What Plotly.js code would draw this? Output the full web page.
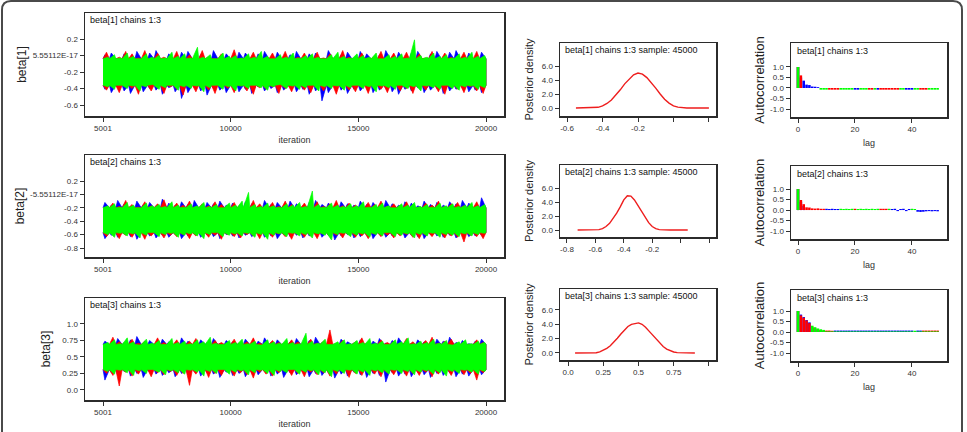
<!DOCTYPE html>
<html>
<head>
<meta charset="utf-8">
<script src="https://cdn.plot.ly/plotly-3.0.1.min.js"></script>
<style>
  html, body { margin: 0; padding: 0; background: #fff; }
  #fig { width: 967px; height: 432px; }
</style>
</head>
<body>
<div id="fig"></div>
<script>
// ---------- MCMC output for beta[1..3], 3 chains, iterations 5001-20000 ----------
// Trace plots: per-block max / min of each chain (60 blocks of 250 iterations)
// plus the level that bounds the bulk of the samples (core band edges).
const iterFirst = 5001, iterLast = 20000;

const b1Core = [-0.04, -0.36];
const b1GreenHi = [-0.02,0.01,-0.03,0.03,-0.01,-0.04,0.02,-0.02,0.0,-0.03,0.04,-0.01,0.02,-0.03,0.10,-0.02,0.01,-0.04,0.03,-0.01,0.0,-0.03,0.02,-0.02,0.05,-0.01,-0.04,0.01,-0.02,0.03,-0.03,0.0,0.02,-0.02,-0.04,0.01,0.04,-0.01,-0.03,0.02,0.0,-0.02,0.03,-0.04,0.01,-0.01,0.02,-0.03,0.19,0.0,-0.02,0.03,-0.01,0.01,-0.03,0.02,-0.02,0.04,-0.01,0.0];
const b1GreenLo = [-0.38,-0.41,-0.36,-0.40,-0.37,-0.43,-0.38,-0.35,-0.41,-0.39,-0.36,-0.42,-0.38,-0.40,-0.37,-0.44,-0.39,-0.36,-0.41,-0.38,-0.43,-0.37,-0.40,-0.36,-0.39,-0.42,-0.38,-0.35,-0.40,-0.37,-0.41,-0.39,-0.36,-0.43,-0.38,-0.40,-0.37,-0.42,-0.39,-0.36,-0.40,-0.38,-0.44,-0.37,-0.39,-0.41,-0.36,-0.40,-0.38,-0.43,-0.37,-0.39,-0.41,-0.36,-0.40,-0.42,-0.38,-0.37,-0.41,-0.39];
const b1RedHi = [0.04,-0.04,-0.02,0.05,0.02,-0.03,0.06,-0.05,0.03,-0.02,-0.04,0.05,-0.03,0.01,-0.05,0.06,-0.02,-0.04,0.02,-0.03,0.07,-0.04,-0.01,0.04,-0.03,-0.05,0.03,-0.02,0.05,-0.04,-0.02,0.03,-0.05,0.04,-0.03,0.02,-0.04,0.06,-0.02,-0.05,0.03,-0.03,-0.01,0.05,-0.04,0.03,-0.02,0.04,-0.05,0.02,-0.03,0.05,-0.04,0.03,-0.02,-0.05,0.04,-0.03,0.05,-0.02];
const b1RedLo = [-0.42,-0.36,-0.45,-0.38,-0.40,-0.47,-0.37,-0.43,-0.39,-0.46,-0.38,-0.41,-0.48,-0.37,-0.44,-0.39,-0.42,-0.46,-0.38,-0.40,-0.45,-0.37,-0.43,-0.47,-0.39,-0.41,-0.38,-0.46,-0.40,-0.44,-0.37,-0.42,-0.45,-0.39,-0.43,-0.38,-0.47,-0.40,-0.42,-0.44,-0.39,-0.46,-0.38,-0.41,-0.45,-0.37,-0.43,-0.40,-0.46,-0.39,-0.42,-0.38,-0.44,-0.47,-0.39,-0.41,-0.45,-0.38,-0.43,-0.46];
const b1BlueHi = [0.01,0.03,-0.04,0.02,-0.03,0.05,-0.02,0.03,0.06,-0.04,0.02,-0.03,0.04,0.05,-0.02,0.01,-0.04,0.06,-0.03,0.02,-0.02,0.04,0.03,-0.04,0.02,0.05,-0.03,0.04,-0.02,0.01,0.05,-0.03,0.02,0.03,-0.04,0.06,-0.02,0.01,0.04,-0.03,0.05,0.02,-0.04,0.01,0.06,-0.03,0.04,-0.02,0.03,0.05,-0.04,0.02,0.05,-0.03,0.04,0.06,-0.02,0.03,-0.04,0.04];
const b1BlueLo = [-0.41,-0.45,-0.39,-0.43,-0.46,-0.38,-0.44,-0.40,-0.42,-0.47,-0.39,-0.44,-0.52,-0.45,-0.38,-0.43,-0.48,-0.40,-0.42,-0.45,-0.39,-0.44,-0.41,-0.46,-0.38,-0.43,-0.40,-0.45,-0.42,-0.39,-0.44,-0.41,-0.47,-0.43,-0.55,-0.45,-0.38,-0.42,-0.46,-0.41,-0.43,-0.39,-0.45,-0.42,-0.40,-0.44,-0.47,-0.41,-0.43,-0.39,-0.45,-0.42,-0.40,-0.46,-0.43,-0.41,-0.39,-0.44,-0.42,-0.45];

const b2Core = [-0.20, -0.57];
const b2GreenHi = [-0.17,-0.14,-0.19,-0.12,-0.16,-0.20,-0.13,-0.17,-0.15,-0.18,-0.11,-0.16,-0.19,-0.14,-0.17,-0.12,-0.18,-0.15,-0.20,-0.13,-0.16,-0.10,0.03,-0.15,-0.18,-0.13,-0.17,-0.19,-0.14,-0.16,-0.12,-0.18,0.05,-0.15,-0.19,-0.13,-0.16,-0.18,-0.14,-0.17,-0.11,-0.19,-0.15,-0.13,-0.17,-0.20,-0.14,-0.16,-0.12,-0.18,-0.15,-0.19,-0.13,-0.17,-0.14,-0.18,-0.16,-0.12,-0.17,-0.15];
const b2GreenLo = [-0.60,-0.64,-0.58,-0.62,-0.59,-0.65,-0.61,-0.57,-0.63,-0.60,-0.58,-0.64,-0.61,-0.59,-0.62,-0.66,-0.60,-0.57,-0.63,-0.61,-0.59,-0.62,-0.58,-0.64,-0.60,-0.67,-0.61,-0.59,-0.63,-0.58,-0.62,-0.60,-0.65,-0.59,-0.61,-0.68,-0.60,-0.58,-0.63,-0.61,-0.59,-0.64,-0.60,-0.62,-0.57,-0.63,-0.61,-0.59,-0.65,-0.60,-0.62,-0.58,-0.64,-0.60,-0.61,-0.63,-0.59,-0.62,-0.60,-0.58];
const b2RedHi = [-0.20,-0.13,-0.18,-0.09,-0.15,-0.19,-0.11,-0.17,-0.14,-0.08,-0.18,-0.13,-0.16,-0.10,-0.19,-0.14,-0.17,-0.11,-0.15,-0.18,-0.12,-0.16,-0.19,-0.09,-0.14,-0.17,-0.12,-0.18,-0.10,-0.15,-0.19,-0.13,-0.16,-0.11,-0.18,-0.14,-0.09,-0.17,-0.13,-0.16,-0.19,-0.12,-0.15,-0.10,-0.18,-0.14,-0.17,-0.11,-0.15,-0.19,-0.13,-0.16,-0.10,-0.18,-0.14,-0.12,-0.17,-0.15,-0.11,-0.18];
const b2RedLo = [-0.63,-0.59,-0.66,-0.61,-0.64,-0.60,-0.67,-0.62,-0.58,-0.65,-0.61,-0.63,-0.60,-0.66,-0.62,-0.59,-0.64,-0.61,-0.67,-0.60,-0.63,-0.65,-0.60,-0.62,-0.66,-0.61,-0.64,-0.59,-0.63,-0.67,-0.60,-0.64,-0.62,-0.66,-0.59,-0.63,-0.61,-0.65,-0.60,-0.64,-0.62,-0.66,-0.59,-0.63,-0.61,-0.65,-0.62,-0.60,-0.64,-0.66,-0.61,-0.63,-0.60,-0.65,-0.62,-0.64,-0.71,-0.61,-0.63,-0.66];
const b2BlueHi = [-0.12,-0.16,-0.09,-0.14,-0.18,-0.10,-0.15,-0.12,-0.17,-0.07,-0.13,-0.16,-0.11,-0.15,-0.09,-0.18,-0.12,-0.14,-0.10,-0.16,-0.13,-0.17,-0.11,-0.14,-0.18,-0.09,-0.15,-0.12,-0.16,-0.10,-0.14,-0.17,-0.12,-0.09,-0.15,-0.13,-0.18,-0.11,-0.14,-0.16,-0.10,-0.15,-0.12,-0.17,-0.09,-0.14,-0.16,-0.11,-0.13,-0.17,-0.10,-0.15,-0.12,-0.16,-0.11,-0.14,-0.09,-0.13,-0.17,-0.05];
const b2BlueLo = [-0.66,-0.61,-0.64,-0.59,-0.63,-0.67,-0.60,-0.62,-0.65,-0.61,-0.64,-0.60,-0.66,-0.62,-0.59,-0.64,-0.61,-0.63,-0.66,-0.60,-0.62,-0.65,-0.61,-0.63,-0.59,-0.64,-0.62,-0.66,-0.60,-0.63,-0.61,-0.65,-0.62,-0.60,-0.64,-0.61,-0.68,-0.62,-0.60,-0.65,-0.63,-0.61,-0.66,-0.60,-0.64,-0.62,-0.59,-0.65,-0.61,-0.63,-0.66,-0.60,-0.62,-0.64,-0.61,-0.65,-0.60,-0.63,-0.62,-0.61];

const b3Core = [0.69, 0.31];
const b3GreenHi = [0.72,0.76,0.70,0.79,0.73,0.68,0.77,0.71,0.75,0.69,0.78,0.72,0.74,0.70,0.76,0.73,0.80,0.71,0.69,0.75,0.72,0.77,0.70,0.74,0.68,0.76,0.73,0.71,0.78,0.72,0.70,0.86,0.74,0.71,0.77,0.69,0.73,0.76,0.70,0.75,0.72,0.78,0.71,0.74,0.69,0.76,0.73,0.79,0.70,0.74,0.72,0.77,0.71,0.75,0.68,0.73,0.76,0.70,0.74,0.72];
const b3GreenLo = [0.28,0.24,0.30,0.26,0.22,0.29,0.25,0.31,0.27,0.23,0.29,0.26,0.24,0.30,0.27,0.21,0.28,0.25,0.31,0.24,0.27,0.29,0.23,0.26,0.30,0.25,0.22,0.28,0.26,0.31,0.24,0.27,0.29,0.23,0.26,0.20,0.28,0.25,0.30,0.24,0.27,0.22,0.29,0.26,0.24,0.30,0.25,0.28,0.23,0.27,0.29,0.24,0.26,0.21,0.28,0.25,0.30,0.27,0.24,0.28];
const b3RedHi = [0.69,0.80,0.73,0.67,0.77,0.71,0.74,0.68,0.79,0.72,0.70,0.76,0.69,0.74,0.78,0.71,0.68,0.75,0.72,0.70,0.77,0.69,0.73,0.79,0.71,0.68,0.75,0.72,0.70,0.76,0.73,0.69,0.77,0.71,0.74,0.91,0.70,0.75,0.68,0.73,0.79,0.71,0.69,0.76,0.72,0.74,0.70,0.78,0.73,0.69,0.75,0.80,0.71,0.74,0.77,0.70,0.73,0.69,0.76,0.72];
const b3RedLo = [0.25,0.22,0.06,0.27,0.21,0.24,0.29,0.20,0.26,0.23,0.28,0.22,0.25,0.07,0.24,0.27,0.19,0.25,0.22,0.28,0.21,0.26,0.23,0.18,0.27,0.24,0.21,0.26,0.29,0.22,0.25,0.20,0.27,0.23,0.26,0.21,0.24,0.28,0.19,0.25,0.22,0.27,0.24,0.20,0.26,0.23,0.29,0.21,0.25,0.22,0.27,0.20,0.24,0.26,0.22,0.28,0.23,0.25,0.15,0.26];
const b3BlueHi = [0.74,0.70,0.78,0.72,0.76,0.81,0.71,0.75,0.69,0.77,0.73,0.70,0.79,0.74,0.71,0.76,0.72,0.78,0.70,0.75,0.73,0.71,0.77,0.69,0.74,0.79,0.72,0.76,0.70,0.73,0.78,0.71,0.75,0.80,0.72,0.74,0.69,0.77,0.73,0.71,0.76,0.70,0.74,0.78,0.71,0.75,0.79,0.72,0.70,0.76,0.73,0.71,0.77,0.74,0.80,0.72,0.75,0.70,0.74,0.77];
const b3BlueLo = [0.15,0.26,0.23,0.28,0.21,0.25,0.19,0.27,0.24,0.22,0.26,0.20,0.25,0.23,0.28,0.21,0.26,0.24,0.19,0.27,0.22,0.25,0.20,0.26,0.23,0.28,0.21,0.24,0.19,0.26,0.23,0.27,0.20,0.25,0.22,0.26,0.18,0.24,0.21,0.27,0.23,0.19,0.25,0.22,0.12,0.26,0.21,0.24,0.20,0.27,0.23,0.19,0.25,0.22,0.26,0.20,0.24,0.21,0.27,0.23];

// Posterior densities (pooled chains, sample: 45000)
const densX1 = [-0.55,-0.525,-0.5,-0.475,-0.45,-0.425,-0.4,-0.375,-0.35,-0.325,-0.3,-0.275,-0.25,-0.225,-0.2,-0.175,-0.15,-0.125,-0.1,-0.075,-0.05,-0.025,0,0.025,0.05,0.075,0.1,0.125,0.15,0.175,0.2];
const densY1 = [0,0,0,0,0.02,0.1,0.3,0.65,1.15,1.85,2.6,3.45,4.15,4.75,5.0,4.85,4.35,3.65,2.85,2.0,1.25,0.7,0.3,0.12,0.03,0,0,0,0,0,0];
const densX2 = [-0.725,-0.7,-0.675,-0.65,-0.625,-0.6,-0.575,-0.55,-0.525,-0.5,-0.475,-0.45,-0.425,-0.4,-0.375,-0.35,-0.325,-0.3,-0.275,-0.25,-0.225,-0.2,-0.175,-0.15,-0.125,-0.1,-0.075,-0.05,-0.025,0,0.025,0.05];
const densY2 = [0,0,0,0,0,0.01,0.05,0.2,0.5,0.95,1.6,2.4,3.3,4.3,4.9,4.85,4.3,3.5,2.6,1.75,1.05,0.5,0.2,0.06,0.01,0,0,0,0,0,0,0];
const densX3 = [0.05,0.075,0.1,0.125,0.15,0.175,0.2,0.225,0.25,0.275,0.3,0.325,0.35,0.375,0.4,0.425,0.45,0.475,0.5,0.525,0.55,0.575,0.6,0.625,0.65,0.675,0.7,0.725,0.75,0.775,0.8,0.825,0.85,0.875,0.9];
const densY3 = [0,0,0,0,0,0.01,0.04,0.15,0.35,0.65,1.0,1.5,2.05,2.65,3.2,3.7,4.0,4.15,4.2,4.0,3.6,3.05,2.5,1.9,1.35,0.9,0.55,0.3,0.14,0.05,0.02,0,0,0,0];

// Autocorrelation by lag (0..49) for each chain
const acf1Blue  = [1.00,0.50,0.35,0.16,0.14,0.07,0.06,0.04,0,0, 0,0,0,0,0,0,0,0,0,0, -0.08,-0.08,0,0,0,0,0,0,-0.08,0, 0,0,0,0,0,0,0,0,-0.08,-0.08, -0.08,0,0,0,0,0,0,0,0,0];
const acf1Red   = [1.00,0.60,0,0,0,0,0,0,0,0, 0,-0.08,-0.08,-0.08,-0.08,0,0,0,0,0, 0,0,0,0,0,-0.08,-0.08,0,0,-0.08, -0.08,-0.08,-0.08,-0.08,-0.08,-0.08,0,0,0,0, 0,0,0,-0.08,-0.08,-0.08,0,0,0,0];
const acf1Green = [1.00,0,0,0,0,0,0,0,-0.08,-0.08, -0.08,0,0,0,0,-0.08,-0.08,-0.08,-0.08,-0.08, 0,0,-0.08,-0.08,-0.08,0,0,-0.08,0,0, 0,0,0,0,0,0,-0.08,-0.08,0,0, 0,-0.08,-0.08,0,0,0,-0.08,-0.08,-0.08,-0.08];
const acf2Blue  = [1.00,0.40,0.20,0,0,0,0,0,0,0, 0.06,0.05,0.06,0.05,0.05,0,0,0,0,0, 0,0,0,0,0,0,0,0,0,0, 0,0,0,0.05,0.06,-0.05,0.05,0.06,-0.05,0.05, 0,0,-0.08,-0.09,-0.08,-0.06,-0.05,-0.06,-0.05,-0.06];
const acf2Red   = [1.00,0.48,0.28,0.13,0.12,0.08,0.07,0.08,0.06,0.06, 0,0,0,0,0,0,0,0,0,0, 0.06,0,0,0,0,0,0,0,0,0.06, 0.06,0.06,0,0,0,0,0,0,0,0, 0,0,0,0,0,0,0,0,0,0];
const acf2Green = [1.00,0,0,0,0,0,0,0,0,0, 0,0,0,0,0,0.06,0.05,0.06,0.05,0.06, 0,0.05,0.06,0.05,0.06,0.05,0.06,0.05,0.06,0, 0,0,0.06,0,0,0,0,0,0,0, 0.06,0.05,0,0,0,0,0,0,0,0];
const acf3Blue  = [1.00,0.83,0.71,0.57,0.46,0.20,0.15,0.10,0.08,0.06, 0.03,0.03,0.03,0.07,0.07,0.07,0.07,0.07,0.07,0.07, 0.07,0.07,0.07,0.07,0.07,0.07,0.07,0.07,0.07,0.07, 0.07,0.07,0.07,0.07,0.07,0.07,0.07,0.07,0.07,0.07, 0.07,0,0.07,0.07,0,0,0,0,0,0];
const acf3Red   = [1.00,0.79,0.68,0.55,0.42,0.25,0.18,0.12,0.09,0.07, 0.07,0.07,0.06,0,0,0,0,0,0,0, 0,0,0,0,0,0,0,0,0,0, 0,0,0,0,0,0,0,0,0,0, 0,0,0,0,0.07,0.07,0.07,0.07,0.07,0.07];
const acf3Green = [1.00,0,0,0,0,0.30,0.23,0.17,0.13,0.10, 0.03,0.03,0.03,0.03,0.03,0.03,0.03,0.03,0.03,0.03, 0.03,0.03,0.03,0.03,0.03,0.03,0.03,0.03,0.03,0.03, 0.03,0.03,0.03,0.03,0.03,0.03,0.03,0.03,0.03,0.03, 0.03,0.06,0.03,0.03,0.03,0.03,0.03,0.03,0.03,0.03];

// Tick values and labels
const iterTicks = [5001, 10000, 15000, 20000];
const iterTickText = ['5001', '10000', '15000', '20000'];
const traceYTicks = [[0.2, 0, -0.2, -0.4, -0.6], [0.2, 0, -0.2, -0.4, -0.6, -0.8], [1.0, 0.75, 0.5, 0.25, 0.0]];
const traceYText = [['0.2', '5.55112E-17', '-0.2', '-0.4', '-0.6'], ['0.2', '-5.55112E-17', '-0.2', '-0.4', '-0.6', '-0.8'], ['1.0', '0.75', '0.5', '0.25', '0.0']];
const densXTicks = [[-0.6, -0.4, -0.2, 0, 0.2], [-0.8, -0.6, -0.4, -0.2, 0, 0.2], [0, 0.25, 0.5, 0.75, 1.0]];
const densXText = [['-0.6', '-0.4', '-0.2', '', ''], ['-0.8', '-0.6', '-0.4', '-0.2', '', ''], ['0.0', '0.25', '0.5', '0.75', '']];
const densYTicks = [0, 2, 4, 6];
const densYText = ['0.0', '2.0', '4.0', '6.0'];
const acfXTicks = [0, 20, 40];
const acfYTicks = [1.0, 0.5, 0.0, -0.5, -1.0];
const acfYText = ['1.0', '0.5', '0.0', '-0.5', '-1.0'];

const paramNames = ['beta[1]', 'beta[2]', 'beta[3]'];

// ---------- layout geometry (pixels: left, top, right, bottom) ----------
const W = 967, H = 432;
const FONT = '"Liberation Sans", Arial, sans-serif';
const boxTrace = [[85, 13, 504, 116], [85, 155, 504, 257], [85, 298, 504, 400]];
const boxDens = [[560, 43, 716, 116], [560, 165, 716, 237], [560, 289, 716, 360]];
const boxAcf = [[791, 43, 947, 117], [791, 166, 947, 239], [791, 290, 947, 361]];
const rangeTraceX = [4296, 20705];
const rangeTraceY = [[-0.733, 0.515], [-0.934, 0.588], [-0.152, 1.394]];
const rangeDensX = [[-0.64, 0.24], [-0.849, 0.249], [-0.057, 1.05]];
const rangeDensY = [[-1.14, 9.29], [-1.0, 9.29], [-0.98, 8.93]];
const rangeAcfX = [-2.46, 52.3];
const rangeAcfY = [[-1.38, 2.14], [-1.38, 2.10], [-1.38, 2.0]];

const COL = { blue: '#0000ff', red: '#ff0000', green: '#00ff00' };
// where inside each block a chain's extreme is plotted
const PEAK_AT = { blue: 0.3, red: 0.55, green: 0.8 };

const px = p => p / W;
const py = p => 1 - p / H;
const xDom = b => [px(b[0]), px(b[2])];
const yDom = b => [py(b[3]), py(b[1])];

function axis(domain, range, tickvals, ticktext, extra) {
  return Object.assign({
    domain: domain, range: range, tickmode: 'array', tickvals: tickvals, ticktext: ticktext,
    showline: true, mirror: true, linecolor: '#2b2b2b', linewidth: 1.5,
    ticks: 'outside', ticklen: 4, tickwidth: 1, tickcolor: '#333',
    showgrid: false, zeroline: false, fixedrange: true,
    tickfont: { family: FONT, size: 8, color: '#333' }
  }, extra || {});
}

// Outline of one chain's trace: core band edge with a spike for each block extreme
function chainOutline(hi, lo, core, color) {
  const n = hi.length, step = (iterLast - iterFirst) / n;
  const topX = [iterFirst], topY = [core[0]];
  const botX = [iterFirst], botY = [core[1]];
  for (let i = 0; i < n; i++) {
    const s = iterFirst + i * step;
    topX.push(s + PEAK_AT[color] * step, s + step); topY.push(hi[i], core[0]);
    botX.push(s + PEAK_AT[color] * step, s + step); botY.push(lo[i], core[1]);
  }
  return {
    x: topX.concat(botX.slice().reverse()),
    y: topY.concat(botY.slice().reverse())
  };
}

const lags = Array.from({ length: acf1Blue.length }, (_, i) => i);

const traceSets = [
  { core: b1Core, chains: [['blue', b1BlueHi, b1BlueLo], ['red', b1RedHi, b1RedLo], ['green', b1GreenHi, b1GreenLo]] },
  { core: b2Core, chains: [['blue', b2BlueHi, b2BlueLo], ['red', b2RedHi, b2RedLo], ['green', b2GreenHi, b2GreenLo]] },
  { core: b3Core, chains: [['blue', b3BlueHi, b3BlueLo], ['red', b3RedHi, b3RedLo], ['green', b3GreenHi, b3GreenLo]] }
];
const densSets = [[densX1, densY1], [densX2, densY2], [densX3, densY3]];
const acfSets = [
  [['blue', acf1Blue], ['red', acf1Red], ['green', acf1Green]],
  [['blue', acf2Blue], ['red', acf2Red], ['green', acf2Green]],
  [['blue', acf3Blue], ['red', acf3Red], ['green', acf3Green]]
];

const data = [];
const layout = {
  width: W, height: H, margin: { l: 0, r: 0, t: 0, b: 0 },
  paper_bgcolor: '#fff', plot_bgcolor: '#fff', showlegend: false,
  barmode: 'overlay', hovermode: false,
  font: { family: FONT, color: '#222' },
  annotations: [], shapes: []
};

const ids = n => (n === 1 ? '' : String(n));

for (let r = 0; r < 3; r++) {
  // --- trace plot ---
  const tn = r + 1;
  traceSets[r].chains.forEach(([c, hi, lo]) => {
    const o = chainOutline(hi, lo, traceSets[r].core, c);
    data.push({
      type: 'scatter', mode: 'lines', hoverinfo: 'skip',
      x: o.x, y: o.y,
      fill: 'toself', fillcolor: COL[c], line: { color: COL[c], width: 0.7 },
      xaxis: 'x' + ids(tn), yaxis: 'y' + ids(tn)
    });
  });
  layout['xaxis' + ids(tn)] = axis(xDom(boxTrace[r]), rangeTraceX, iterTicks, iterTickText, {
    anchor: 'y' + ids(tn),
    title: { text: 'iteration', font: { family: FONT, size: 9, color: '#333' }, standoff: 4 }
  });
  layout['yaxis' + ids(tn)] = axis(yDom(boxTrace[r]), rangeTraceY[r], traceYTicks[r], traceYText[r], {
    anchor: 'x' + ids(tn),
    title: { text: paramNames[r], font: { family: FONT, size: 12, color: '#222' }, standoff: r === 2 ? 9 : 3 }
  });
  layout.annotations.push({
    xref: 'paper', yref: 'paper', x: px(boxTrace[r][0] + 3), y: py(boxTrace[r][1] + 7),
    xanchor: 'left', yanchor: 'middle', showarrow: false,
    text: paramNames[r] + ' chains 1:3', font: { family: FONT, size: 9, color: '#111' }
  });

  // --- posterior density ---
  const dn = r + 4;
  data.push({
    type: 'scatter', mode: 'lines', hoverinfo: 'skip',
    x: densSets[r][0], y: densSets[r][1],
    line: { color: '#ee1d1d', width: 1.4 },
    xaxis: 'x' + dn, yaxis: 'y' + dn
  });
  layout['xaxis' + dn] = axis(xDom(boxDens[r]), rangeDensX[r], densXTicks[r], densXText[r], { anchor: 'y' + dn });
  layout['yaxis' + dn] = axis(yDom(boxDens[r]), rangeDensY[r], densYTicks, densYText, {
    anchor: 'x' + dn,
    title: { text: 'Posterior density', font: { family: FONT, size: 11, color: '#222' }, standoff: 6 }
  });
  layout.annotations.push({
    xref: 'paper', yref: 'paper', x: px(boxDens[r][0] + 3), y: py(boxDens[r][1] + 7),
    xanchor: 'left', yanchor: 'middle', showarrow: false,
    text: paramNames[r] + ' chains 1:3 sample: 45000', font: { family: FONT, size: 9, color: '#111' }
  });

  // --- autocorrelation ---
  const an = r + 7;
  acfSets[r].forEach(([c, vals]) => {
    data.push({
      type: 'bar', hoverinfo: 'skip', x: lags, y: vals, width: 0.9,
      marker: { color: COL[c], line: { width: 0 } },
      xaxis: 'x' + an, yaxis: 'y' + an
    });
  });
  layout['xaxis' + an] = axis(xDom(boxAcf[r]), rangeAcfX, acfXTicks, acfXTicks.map(String), {
    anchor: 'y' + an,
    title: { text: 'lag', font: { family: FONT, size: 9, color: '#333' }, standoff: 6 }
  });
  layout['yaxis' + an] = axis(yDom(boxAcf[r]), rangeAcfY[r], acfYTicks, acfYText, {
    anchor: 'x' + an,
    title: { text: 'Autocorrelation', font: { family: FONT, size: 13, color: '#222' }, standoff: 2 }
  });
  layout.annotations.push({
    xref: 'paper', yref: 'paper', x: px(boxAcf[r][0] + 4), y: py(boxAcf[r][1] + 8),
    xanchor: 'left', yanchor: 'middle', showarrow: false,
    text: paramNames[r] + ' chains 1:3', font: { family: FONT, size: 9, color: '#111' }
  });
}

// rounded frame around the whole figure (open at the bottom)
const fl = 2, ft = 1, fr = 962, fb = 460, rad = 9;
layout.shapes.push({
  type: 'path', xref: 'paper', yref: 'paper',
  path: 'M ' + px(fl) + ' ' + py(fb) +
        ' L ' + px(fl) + ' ' + py(ft + rad) +
        ' Q ' + px(fl) + ' ' + py(ft) + ' ' + px(fl + rad) + ' ' + py(ft) +
        ' L ' + px(fr - rad) + ' ' + py(ft) +
        ' Q ' + px(fr) + ' ' + py(ft) + ' ' + px(fr) + ' ' + py(ft + rad) +
        ' L ' + px(fr) + ' ' + py(fb),
  line: { color: '#4a4a4a', width: 2 }
});

Plotly.newPlot('fig', data, layout, { staticPlot: true, displayModeBar: false });
</script>
</body>
</html>
